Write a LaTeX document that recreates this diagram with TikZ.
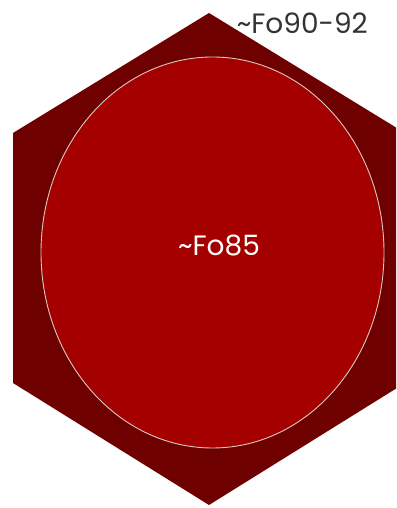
\documentclass[tikz,border=0pt]{standalone}
\usepackage{fontspec}
\setmainfont{Poppins}
\definecolor{hexred}{HTML}{6E0000}
\definecolor{ellred}{HTML}{A50000}
\definecolor{rimcol}{HTML}{D9C9C0}
\begin{document}
\begin{tikzpicture}[x=1pt,y=1pt,
  hexstyle/.style={fill=hexred,draw=none},
  ellstyle/.style={fill=ellred,draw=rimcol,line width=0.9pt},
  lbl/.style={font=\fontsize{28}{30}\selectfont,inner sep=0pt}]
\useasboundingbox (0,0) rectangle (396,508);
\clip (0,0) rectangle (396,508);
\fill[hexstyle] (209,495) -- (405,375) -- (405,125) -- (209,3) -- (13,125) -- (13,375) -- cycle;
\draw[ellstyle] (212.5,255.5) ellipse [x radius=171.5, y radius=195.5];
\node[lbl,text=white] (inner) at (219,262) {\textasciitilde Fo85};
\node[lbl,text=black!80,anchor=east] (outer) at (368,485) {\textasciitilde Fo90-92};
\end{tikzpicture}
\end{document}
